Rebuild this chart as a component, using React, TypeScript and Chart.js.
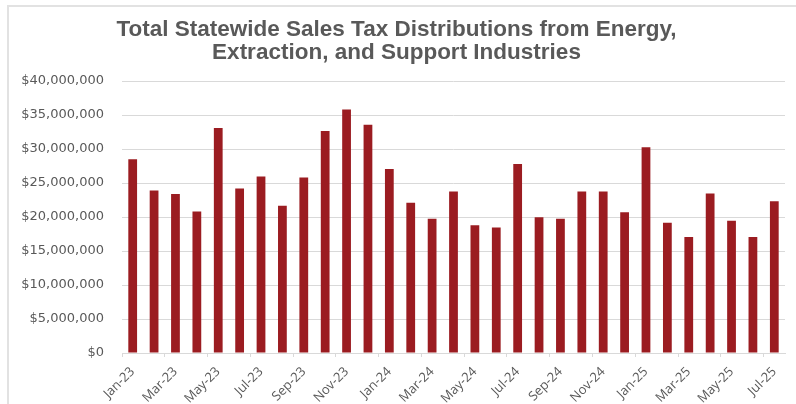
import React, { useEffect, useRef } from "react";
import { Chart, registerables } from "chart.js";

Chart.register(...registerables);

const months = [
  "Jan-23", "Feb-23", "Mar-23", "Apr-23", "May-23", "Jun-23", "Jul-23", "Aug-23",
  "Sep-23", "Oct-23", "Nov-23", "Dec-23", "Jan-24", "Feb-24", "Mar-24", "Apr-24",
  "May-24", "Jun-24", "Jul-24", "Aug-24", "Sep-24", "Oct-24", "Nov-24", "Dec-24",
  "Jan-25", "Feb-25", "Mar-25", "Apr-25", "May-25", "Jun-25", "Jul-25",
];

const distributions = [
  28500000, 23900000, 23400000, 20800000, 33100000, 24200000, 25950000, 21650000,
  25800000, 32650000, 35800000, 33550000, 27050000, 22100000, 19750000, 23750000,
  18800000, 18450000, 27800000, 19950000, 19750000, 23750000, 23750000, 20700000,
  30250000, 19150000, 17050000, 23450000, 19450000, 17050000, 22300000,
];

const titleLines = [
  "Total Statewide Sales Tax Distributions from Energy,",
  "Extraction, and Support Industries",
];

const yMax = 40000000;
const yStep = 5000000;

export default function App() {
  const ref = useRef<HTMLCanvasElement | null>(null);

  useEffect(() => {
    if (!ref.current) return;
    const chart = new Chart(ref.current, {
      type: "bar",
      data: {
        labels: months,
        datasets: [
          {
            data: distributions,
            backgroundColor: "#9b1c21",
            borderWidth: 0,
            barPercentage: 0.41,
            categoryPercentage: 1,
          },
        ],
      },
      options: {
        animation: false,
        responsive: false,
        maintainAspectRatio: false,
        layout: { padding: { left: 8, right: 11, top: 0, bottom: 0 } },
        plugins: {
          legend: { display: false },
          tooltip: { enabled: false },
          title: {
            display: true,
            text: titleLines,
            color: "#595959",
            font: { family: "'Liberation Sans', sans-serif", size: 22.5, weight: "bold", lineHeight: 1.0 },
            padding: { top: 19, bottom: 17 },
          },
        },
        scales: {
          x: {
            grid: {
              offset: true,
              drawOnChartArea: false,
              drawTicks: true,
              tickLength: 4,
              color: (ctx: any) => (ctx.index % 2 === 0 ? "#d9d9d9" : "rgba(0,0,0,0)"),
            },
            border: { display: true, color: "#d9d9d9", width: 1 },
            ticks: {
              autoSkip: false,
              maxRotation: 45,
              minRotation: 45,
              padding: 7,
              color: "#595959",
              font: { family: "'Open Sans', sans-serif", size: 13 },
              callback: (_v: any, i: number) => (i % 2 === 0 ? months[i] : ""),
            },
            afterFit: (scale: any) => {
              scale.height = 51;
            },
          },
          y: {
            min: 0,
            max: yMax,
            grid: { color: "#d9d9d9", lineWidth: 1, drawTicks: false },
            border: { display: false },
            ticks: {
              stepSize: yStep,
              padding: 18,
              color: "#595959",
              font: { family: "'DejaVu Sans', sans-serif", size: 13 },
              callback: (v: any) => "$" + Number(v).toLocaleString("en-US"),
            },
            afterFit: (scale: any) => {
              scale.width = 114;
            },
          },
        },
      },
    });
    return () => chart.destroy();
  }, []);

  return (
    <div style={{ position: "absolute", left: 0, top: 0, width: 796, height: 404, background: "#fff" }}>
      <div
        style={{
          position: "absolute",
          left: 7,
          top: 5,
          right: 0,
          bottom: 0,
          borderLeft: "2px solid #e2e2e2",
          borderTop: "2px solid #e2e2e2",
        }}
      />
      <canvas ref={ref} width={796} height={404} style={{ position: "absolute", left: 0, top: 0 }} />
    </div>
  );
}
